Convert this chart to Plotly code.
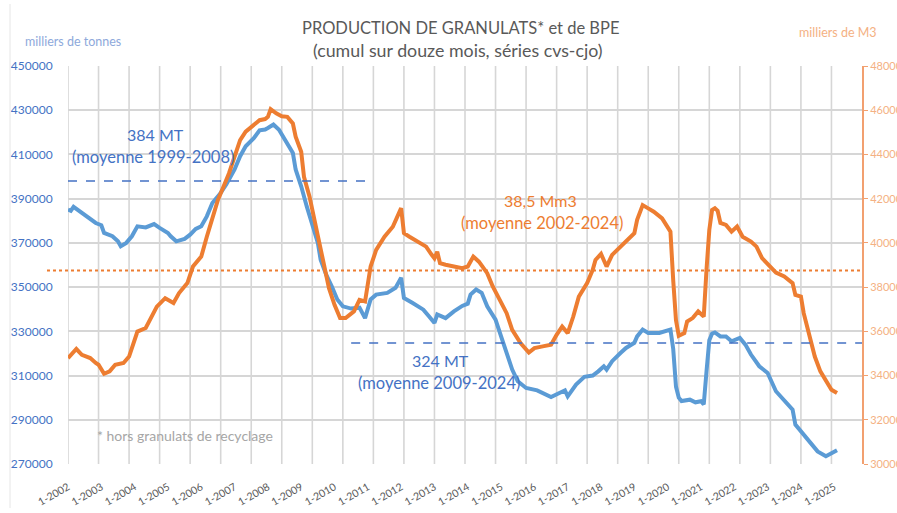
import plotly.graph_objects as go

# ---- data ----
# month index: 0 = January 2002
gran_month = [0, 1, 2, 5, 8, 10, 12, 13, 16, 18, 19, 21, 23, 25, 28, 31, 33, 36, 37, 39, 42, 44, 46, 48,
              50, 52, 55, 57, 60, 62, 64, 67, 69, 71, 72, 74, 76, 78, 81, 82, 84, 86, 88, 90, 91, 93, 95,
              97, 99, 102, 105, 107, 109, 111, 115, 118, 120, 121, 124, 128, 130, 132, 133, 136, 139, 142,
              144, 145, 147, 149, 151, 154, 156, 158, 160, 162, 165, 169, 171, 174, 177, 179, 180, 183,
              186, 189, 191, 193, 194, 196, 199, 201, 204, 205, 207, 209, 213, 216, 217, 218, 219, 220,
              221, 224, 226, 228, 229, 230, 231, 232, 233, 235, 237, 239, 242, 244, 246, 249, 252, 255,
              258, 261, 262, 265, 268, 270, 273, 275, 277]
gran_kt = [385000, 384500, 386300, 383500, 380500, 379000, 378000, 374500, 373000, 370700, 368500, 370000,
           373000, 377500, 377000, 378500, 376800, 374500, 373000, 370700, 371800, 373700, 376300, 377500,
           382000, 388000, 392600, 396400, 403200, 409200, 413700, 417500, 420900, 421300, 422000, 423500,
           421200, 416700, 410700, 403200, 395600, 386500, 377500, 370000, 362400, 355600, 350400,
           344400, 341300, 340300, 340700, 336000, 344400, 346600, 347400, 349700, 354200, 345100,
           342900, 339800, 336800, 333800, 337600, 336000, 339000, 341500, 342500, 346600, 348900,
           347400, 341300, 335300, 327700, 320200, 312700, 307400, 304400, 303300, 302100, 300300,
           302100, 303300, 300600, 305900, 309400, 310000, 311900, 314200, 312700, 316500, 320200,
           322500, 324800, 327700, 330800, 329300, 329300, 330400, 330800, 322000, 305000, 300000,
           298500, 299100, 297900, 298400, 297000, 312000, 326000, 329000, 329500, 327700, 327700,
           325500, 327000, 324000, 319500, 314200, 311200, 302900, 298400, 294600, 287800, 283300,
           278800, 275700, 273500, 275000, 276200]

bpe_month = [0, 3, 5, 8, 10, 11, 13, 15, 17, 20, 22, 25, 28, 30, 32, 35, 38, 40, 43, 45, 48, 50, 52, 54,
             56, 58, 60, 62, 64, 67, 69, 71, 72, 73, 75, 77, 79, 81, 82, 84, 85, 87, 89, 91, 93, 94, 96,
             98, 100, 103, 105, 107, 109, 111, 114, 117, 120, 121, 123, 126, 129, 131, 132, 133, 134,
             136, 140, 142, 144, 146, 148, 151, 153, 156, 158, 160, 163, 166, 168, 171, 174, 176, 178,
             180, 182, 184, 187, 189, 190, 192, 194, 196, 199, 201, 204, 205, 207, 209, 211, 214, 216,
             217, 218, 219, 220, 222, 223, 225, 227, 229, 230, 231, 232, 233, 234, 235, 237, 239, 241,
             243, 246, 248, 250, 253, 255, 258, 261, 262, 264, 265, 267, 269, 271, 273, 275, 277]
bpe_km3 = [34790, 35200, 34940, 34790, 34570, 34490, 34080, 34190, 34490, 34570, 34860, 35990, 36150,
           36670, 37120, 37500, 37280, 37730, 38180, 38930, 39380, 40280, 41190, 41940, 42540, 43150,
           43900, 44650, 45030, 45330, 45550, 45600, 45700, 46050, 45860, 45730, 45700, 45400, 44800,
           44120, 42990, 42090, 40890, 39680, 38700, 37950, 37200, 36600, 36600, 36900, 37420, 37350,
           38930, 39680, 40280, 40730, 41570, 40440, 40280, 40060, 39830, 39460, 39300, 39600, 39080,
           39010, 38930, 38860, 38930, 39380, 39150, 38630, 38030, 37350, 36820, 36070, 35470, 35040,
           35240, 35320, 35390, 35840, 36220, 35920, 36670, 37570, 38180, 38780, 39230, 39500, 38930,
           39460, 39830, 40130, 40440, 41040, 41710, 41560, 41410, 41110, 40660, 40510, 38300, 36500,
           35800, 35920, 36440, 36600, 36900, 36670, 38800, 40590, 41490, 41570, 41450, 40900, 40810,
           40510, 40740, 40280, 40060, 39830, 39310, 38930, 38660, 38480, 38180, 37650, 37570, 36820,
           35920, 34860, 34190, 33730, 33360, 33210]

years = list(range(2002, 2026))
year_labels = ["1-%d" % y for y in years]
year_ticks = [(y - 2002) * 12 for y in years]

avg_gran_old = 398000      # "384 MT (moyenne 1999-2008)" line level
avg_gran_old_span = [0, 110]
avg_gran_new = 324700      # "324 MT (moyenne 2009-2024)" line level
avg_gran_new_span = [102, 286]
avg_bpe = 38750            # "38,5 Mm3 (moyenne 2002-2024)" line level

n_months = 286
grid_every = 11            # vertical grid every 11 categories (as in the source chart)
y_left_range = [270000, 450000]
y_right_range = [30000, 48000]

# ---- figure ----
W, H = 897, 513
ML, MR, MT, MB = 68, 35, 66, 49
PW, PH = W - ML - MR, H - MT - MB


def px(x):
    return (x - ML) / PW


def py(y):
    return (H - MB - y) / PH


BLUE = "#5B9BD5"
ORANGE = "#ED7D31"
TXT_BLUE = "#4472C4"
FONT = "Lato, 'Open Sans', sans-serif"
GRID = "#d6d6d6"

# vertical grid lines (category-axis grid every 11 months), drawn first = behind the series
gx, gy = [], []
for g in range(0, n_months, grid_every):
    gx += [g, g, None]
    gy += [y_left_range[0] - 2000, y_left_range[1], None]

fig = go.Figure()
fig.add_trace(go.Scatter(x=gx, y=gy, mode="lines", line=dict(color=GRID, width=1.6),
                         hoverinfo="skip", showlegend=False, xaxis="x", yaxis="y",
                         cliponaxis=False, connectgaps=False))
fig.add_trace(go.Scatter(x=gran_month, y=gran_kt, mode="lines", name="Granulats",
                         line=dict(color=BLUE, width=4), xaxis="x", yaxis="y"))
fig.add_trace(go.Scatter(x=bpe_month, y=bpe_km3, mode="lines", name="BPE",
                         line=dict(color=ORANGE, width=4), xaxis="x", yaxis="y2"))

fig.update_layout(
    width=W, height=H,
    margin=dict(l=ML, r=MR, t=MT, b=MB, autoexpand=False),
    paper_bgcolor="white", plot_bgcolor="white",
    showlegend=False,
    font=dict(family=FONT),
    xaxis=dict(range=[0, n_months], tickmode="array", tickvals=year_ticks, ticktext=year_labels,
               tickangle=-30, showgrid=False, zeroline=False, showline=False,
               ticks="outside", ticklen=12, tickcolor="rgba(0,0,0,0)", automargin=False,
               tickfont=dict(size=10.5, color="#595959", family=FONT)),
    yaxis=dict(range=y_left_range, dtick=20000, tick0=270000, tickformat="d",
               showgrid=True, gridcolor=GRID, gridwidth=1.6, zeroline=False, showline=False,
               ticks="outside", ticklen=12, tickcolor="rgba(0,0,0,0)", automargin=False,
               tickfont=dict(size=12, color=TXT_BLUE, family=FONT)),
    yaxis2=dict(overlaying="y", side="right", range=y_right_range, dtick=2000, tick0=30000,
                tickformat="d", showgrid=False, zeroline=False, showline=True, linecolor="#F2A070",
                linewidth=2, ticks="outside", ticklen=4, tickcolor="#F2A070", automargin=False,
                tickfont=dict(size=11, color="#F4B183", family=FONT)),
)

# average lines
fig.add_shape(type="line", xref="x", yref="y", x0=avg_gran_old_span[0], x1=avg_gran_old_span[1],
              y0=avg_gran_old, y1=avg_gran_old, line=dict(color=TXT_BLUE, width=1.6, dash="dash"))
fig.add_shape(type="line", xref="x", yref="y", x0=avg_gran_new_span[0], x1=avg_gran_new_span[1],
              y0=avg_gran_new, y1=avg_gran_new, line=dict(color=TXT_BLUE, width=1.6, dash="dash"))
fig.add_shape(type="line", xref="paper", yref="y2", x0=px(47), x1=1.0,
              y0=avg_bpe, y1=avg_bpe, line=dict(color=ORANGE, width=2, dash="dot"))
# chart border (left)
fig.add_shape(type="line", xref="paper", yref="paper", x0=px(10), x1=px(10), y0=py(508), y1=py(4),
              line=dict(color="#e6e6e6", width=1))


def ann(text, x, y, size, color, xanchor="center"):
    fig.add_annotation(text=text, xref="paper", yref="paper", x=px(x), y=py(y),
                       xanchor=xanchor, yanchor="middle", showarrow=False,
                       font=dict(size=size, color=color, family=FONT))


ann("PRODUCTION DE GRANULATS* et de BPE", 460, 28, 16.5, "#595959")
ann("(cumul sur douze mois, séries cvs-cjo)", 458, 50, 17.8, "#595959")
ann("milliers de tonnes", 23, 42, 12.5, "#8EA9DB", "left")
ann("milliers de M3", 797, 33, 12.5, "#F4B183", "left")
ann("384 MT", 155, 134, 16, TXT_BLUE)
ann("(moyenne 1999-2008)", 153, 157, 16.5, TXT_BLUE)
ann("38,5 Mm3", 540, 200, 16, ORANGE)
ann("(moyenne 2002-2024)", 542, 223, 16.5, ORANGE)
ann("324 MT", 440, 360, 16, TXT_BLUE)
ann("(moyenne 2009-2024)", 439, 383, 16.5, TXT_BLUE)
ann("* hors granulats de recyclage", 95, 435, 14, "#A6A6A6", "left")

fig.write_html("out.html", config={"displayModeBar": False},
               post_script="document.body.style.margin='0px';document.body.style.overflow='hidden';")
